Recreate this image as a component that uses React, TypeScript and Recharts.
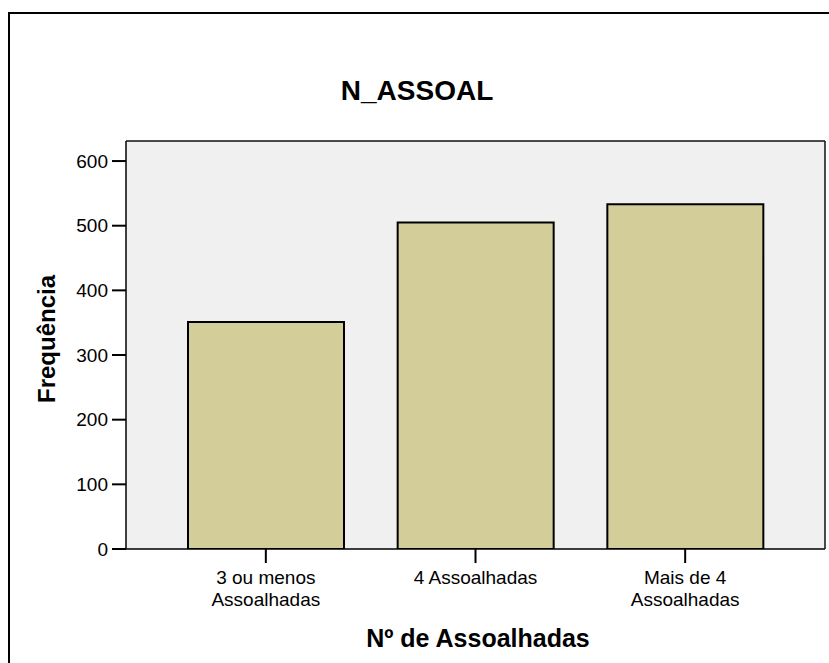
import React from 'react';
import { BarChart, Bar, XAxis, YAxis, CartesianGrid } from 'recharts';

const categories = ['3 ou menos Assoalhadas', '4 Assoalhadas', 'Mais de 4 Assoalhadas'];
const tickLines = [['3 ou menos', 'Assoalhadas'], ['4 Assoalhadas'], ['Mais de 4', 'Assoalhadas']];
const frequencies = [351, 505, 533];
const yTicks = [0, 100, 200, 300, 400, 500, 600];
const titleText = 'N_ASSOAL';
const xLabelText = 'Nº de Assoalhadas';
const yLabelText = 'Frequência';

const data = categories.map((c, i) => ({ name: c, value: frequencies[i] }));

const FONT = '"Liberation Sans", Arial, sans-serif';

const XTick = (props: any) => {
  const { x, y, payload } = props;
  const idx = categories.indexOf(payload.value);
  const lines = idx >= 0 ? tickLines[idx] : [String(payload.value)];
  return (
    <text x={x} y={y} textAnchor="middle" fontFamily={FONT} fontSize={19} fill="#000">
      {lines.map((l, i) => (
        <tspan key={i} x={x} dy={i === 0 ? 19 : 22}>{l}</tspan>
      ))}
    </text>
  );
};

export default function App() {
  return (
    <div style={{ position: 'absolute', left: 0, top: 0, width: 829, height: 663, overflow: 'hidden', background: '#fff' }}>
      <div style={{ position: 'absolute', left: 8, top: 12, width: 900, height: 900, borderTop: '2px solid #000', borderLeft: '2px solid #000' }} />
      <div style={{ position: 'absolute', left: 0, top: 0 }}>
        <BarChart width={829} height={663} data={data} margin={{ top: 140, right: 3, left: 0, bottom: 0 }} barSize={156}>
          <CartesianGrid horizontal={false} vertical={false} fill="#f0f0f0" />
          <XAxis
            dataKey="name"
            height={114}
            padding={{ left: 35, right: 35 }}
            tick={<XTick />}
            tickSize={14}
            tickMargin={2}
            interval={0}
            axisLine={{ stroke: '#000', strokeWidth: 1.5 }}
            tickLine={{ stroke: '#000', strokeWidth: 2 }}
          />
          <XAxis xAxisId="top" dataKey="name" orientation="top" height={1} tick={false} tickLine={false} axisLine={{ stroke: '#111', strokeWidth: 1.5 }} />
          <YAxis
            width={126}
            domain={[0, 631]}
            ticks={yTicks}
            type="number"
            allowDataOverflow
            tickSize={14}
            tickMargin={4}
            tick={{ fontFamily: FONT, fontSize: 19, fill: '#000' }}
            axisLine={{ stroke: '#000', strokeWidth: 1.5 }}
            tickLine={{ stroke: '#000', strokeWidth: 2 }}
          />
          <YAxis yAxisId="right" orientation="right" width={1} domain={[0, 631]} type="number" tick={false} tickLine={false} axisLine={{ stroke: '#111', strokeWidth: 1.5 }} />
          <Bar dataKey="value" fill="#d3ce99" stroke="#000" strokeWidth={2} isAnimationActive={false} />
        </BarChart>
      </div>
      <svg width={829} height={663} style={{ position: 'absolute', left: 0, top: 0, pointerEvents: 'none' }}>
        <text x={417} y={100} textAnchor="middle" fontFamily={FONT} fontWeight="bold" fontSize={28} fill="#000">{titleText}</text>
        <text transform="translate(55, 339) rotate(-90)" textAnchor="middle" fontFamily={FONT} fontWeight="bold" fontSize={24} fill="#000">{yLabelText}</text>
        <text x={478} y={647} textAnchor="middle" fontFamily={FONT} fontWeight="bold" fontSize={25} fill="#000">{xLabelText}</text>
      </svg>
    </div>
  );
}
